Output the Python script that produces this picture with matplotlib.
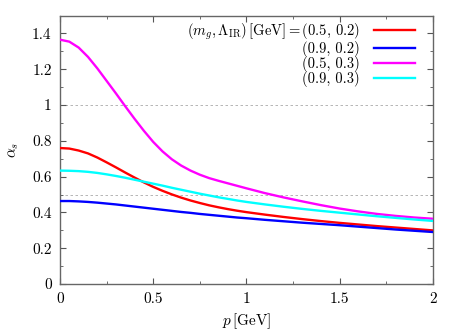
import matplotlib
matplotlib.use("Agg")
import matplotlib.pyplot as plt
from matplotlib.ticker import MultipleLocator, FormatStrFormatter

plt.rcParams['font.family'] = 'serif'
plt.rcParams['font.serif'] = ['cmr10', 'DejaVu Serif']
plt.rcParams['mathtext.fontset'] = 'cm'
plt.rcParams['axes.formatter.use_mathtext'] = True

# momentum grid [GeV]
p = [0.0, 0.05, 0.1, 0.15, 0.2, 0.25, 0.3, 0.35, 0.4, 0.45, 0.5, 0.55, 0.6, 0.65, 0.7,
     0.75, 0.8, 0.85, 0.9, 0.95, 1.0, 1.1, 1.2, 1.3, 1.4, 1.5, 1.6, 1.7, 1.8, 1.9, 2.0]

# alpha_s for (m_g, Lambda_IR)
a_05_02 = [0.760, 0.757, 0.746, 0.730, 0.707, 0.680, 0.652, 0.623, 0.595, 0.568, 0.543,
           0.521, 0.501, 0.483, 0.467, 0.453, 0.440, 0.429, 0.419, 0.410, 0.402,
           0.388, 0.375, 0.363, 0.352, 0.342, 0.333, 0.324, 0.316, 0.308, 0.300]
a_09_02 = [0.464, 0.464, 0.462, 0.459, 0.455, 0.450, 0.445, 0.439, 0.433, 0.427, 0.421,
           0.415, 0.409, 0.403, 0.398, 0.392, 0.387, 0.382, 0.377, 0.372, 0.368,
           0.359, 0.351, 0.343, 0.336, 0.329, 0.321, 0.313, 0.305, 0.298, 0.291]
a_05_03 = [1.365, 1.354, 1.321, 1.269, 1.205, 1.135, 1.065, 0.993, 0.923, 0.856, 0.794,
           0.741, 0.697, 0.662, 0.634, 0.611, 0.592, 0.577, 0.563, 0.549, 0.535,
           0.508, 0.484, 0.462, 0.441, 0.422, 0.406, 0.392, 0.381, 0.372, 0.365]
a_09_03 = [0.634, 0.633, 0.631, 0.627, 0.621, 0.613, 0.604, 0.594, 0.583, 0.572, 0.561,
           0.550, 0.538, 0.527, 0.516, 0.505, 0.495, 0.485, 0.476, 0.467, 0.459,
           0.445, 0.432, 0.420, 0.409, 0.399, 0.389, 0.379, 0.370, 0.361, 0.353]

labels = [r'$(m_g, \Lambda_{\rm IR})\,[\mathrm{GeV}] = $(0.5, 0.2)',
          '(0.9, 0.2)', '(0.5, 0.3)', '(0.9, 0.3)']
colors = ['#ff0000', '#0000ff', '#ff00ff', '#00ffff']

fig = plt.figure(figsize=(4.63, 3.3), dpi=100)
ax = fig.add_axes([0.1296, 0.139, 0.8054, 0.814])

ax.axhline(0.5, color='#aaaaaa', lw=0.6, ls=(0, (3, 3)), zorder=1)
ax.axhline(1.0, color='#aaaaaa', lw=0.6, ls=(0, (3, 3)), zorder=1)

for ys, c, lab in zip([a_05_02, a_09_02, a_05_03, a_09_03], colors, labels):
    ax.plot(p, ys, color=c, lw=1.7, label=lab, zorder=3)

ax.set_xlim(0, 2)
ax.set_ylim(0, 1.5)
ax.xaxis.set_major_locator(MultipleLocator(0.5))
ax.xaxis.set_minor_locator(MultipleLocator(0.25))
ax.yaxis.set_major_locator(MultipleLocator(0.2))
ax.yaxis.set_minor_locator(MultipleLocator(0.1))
ax.xaxis.set_major_formatter(FormatStrFormatter('%g'))
ax.yaxis.set_major_formatter(FormatStrFormatter('%g'))
ax.tick_params(which='both', direction='in', top=True, right=True, labelsize=11,
               color='#555555', pad=6)
ax.tick_params(which='major', length=4)
ax.tick_params(which='minor', length=2.5)
for s in ax.spines.values():
    s.set_color('#666666')
    s.set_linewidth(1.0)

ax.set_xlabel(r'$p\,[\mathrm{GeV}]$', fontsize=11, labelpad=4)
ax.set_ylabel(r'$\alpha_s$', fontsize=11, labelpad=8)

ax.legend(loc='upper right', bbox_to_anchor=(0.952, 0.979), frameon=False,
          markerfirst=False, alignment='right', fontsize=10.5, handlelength=2.8,
          labelspacing=-0.06, handletextpad=1.0, borderpad=0, borderaxespad=0)

fig.savefig('out.png', dpi=100)
